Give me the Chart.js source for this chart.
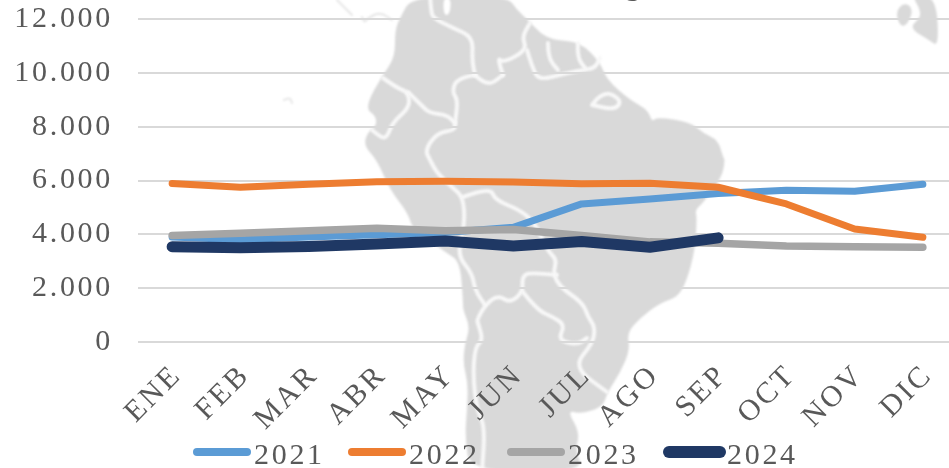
<!DOCTYPE html>
<html>
<head>
<meta charset="utf-8">
<style>
html,body{margin:0;padding:0;background:#fff;overflow:hidden;width:949px;height:468px}
canvas{display:block}
</style>
<script src="https://cdn.jsdelivr.net/npm/chart.js@4"></script>
</head>
<body>
<canvas id="c" width="957" height="468"></canvas>
<script>
const categories = ['ENE','FEB','MAR','ABR','MAY','JUN','JUL','AGO','SEP','OCT','NOV','DIC'];
const yTickLabels = ['0','2.000','4.000','6.000','8.000','10.000','12.000'];
const s2021 = [3900,3800,3900,3980,4070,4260,5130,5310,5520,5640,5600,5860];
const s2022 = [5890,5750,5860,5950,5970,5940,5880,5900,5750,5130,4200,3890];
const s2023 = [3960,4040,4130,4230,4130,4180,3960,3720,3670,3570,3540,3520];
const s2024 = [3540,3500,3550,3640,3750,3570,3730,3520,3870,null,null,null];
const seriesLabels = ['2021','2022','2023','2024'];
const seriesColors = ['#5b9bd5','#ed7d31','#a5a5a5','#1f3864'];
const seriesWidths = [7,7,7.5,11];

const TEXT = '#595959';
const FONT = 'Liberation Serif';
const MAP = '#d9d9d9';

// Decorative background map of South America (not chart data)
const mapOutline = [[412,-4],[400,18],[395,30],[395,57],[383,75],[370,97],[367,110],[375,115],[377,125],[367,133],[364,146],[377,160],[390,190],[408,213],[413,230],[447,253],[460,262],[463,300],[463,310],[470,327],[465,343],[463,363],[468,383],[467,410],[465,437],[470,472],[584,472],[575,450],[580,433],[567,410],[580,414],[603,407],[607,393],[620,373],[630,350],[627,333],[640,318],[660,303],[678,297],[687,280],[695,250],[697,217],[695,210],[703,203],[722,177],[725,160],[723,157],[718,140],[703,133],[690,122],[657,117],[652,122],[648,110],[630,100],[607,80],[600,62],[580,42],[553,40],[540,33],[530,22],[517,10],[507,-4]];
const mapIslandA = [[896,12],[903,3],[911,6],[912,15],[905,27],[899,24]];
const mapIslandB = [[912,-4],[936,-4],[939,47],[929,40],[909,28],[921,17],[919,7]];
const mapBorders = [
 [[430,-4],[431,10],[433,18],[453,28],[473,37],[472,60],[475,75]],
 [[475,75],[457,78],[452,92],[458,100],[455,123],[455,130],[437,133],[425,150],[430,160],[437,173],[453,188],[463,197],[465,223],[457,255],[472,273],[475,290],[485,305]],
 [[475,75],[487,87],[503,75]],
 [[503,75],[497,57],[503,63],[527,50],[522,37],[530,23]],
 [[527,50],[533,70],[540,80],[563,74],[583,70],[595,68],[600,58]],
 [[548,43],[548,58],[558,70]],
 [[578,43],[577,57],[585,68]],
 [[383,78],[397,88],[408,92],[410,107],[393,122],[387,137],[382,138],[372,130]],
 [[408,92],[423,107],[430,113],[447,115],[455,123]],
 [[592,105],[603,90],[622,100],[615,110],[592,105]],
 [[463,197],[490,187],[495,200],[520,210],[535,223],[547,250],[557,260],[553,273],[560,287],[583,303],[588,317],[595,327],[593,343],[573,367],[607,392]],
 [[557,275],[530,272],[522,277],[523,292],[510,303],[498,295],[485,305],[477,320],[478,323],[483,340],[475,347],[473,377],[477,410],[485,427],[482,472]],
 [[523,292],[537,310],[553,317],[565,325],[558,340],[577,345],[587,338]]
];
const mapLakes = [[[443,-2],[451,-2],[450,14],[444,16]]];
const mapFaint = [[[337,0],[345,8],[352,15]],[[362,17],[364,23],[368,18],[380,12],[392,20]],[[284,100],[290,97],[292,103]]];

function smooth(ctx, pts, close){
  ctx.beginPath();
  if(close){
    const last = pts[pts.length-1];
    ctx.moveTo((last[0]+pts[0][0])/2,(last[1]+pts[0][1])/2);
    pts.forEach((p,i)=>{
      const n = pts[(i+1)%pts.length];
      ctx.quadraticCurveTo(p[0],p[1],(p[0]+n[0])/2,(p[1]+n[1])/2);
    });
    ctx.closePath();
  } else {
    ctx.moveTo(pts[0][0],pts[0][1]);
    for(let i=1;i<pts.length-1;i++){
      ctx.quadraticCurveTo(pts[i][0],pts[i][1],(pts[i][0]+pts[i+1][0])/2,(pts[i][1]+pts[i+1][1])/2);
    }
    const e = pts[pts.length-1];
    ctx.lineTo(e[0],e[1]);
  }
}

const backdrop = {
  id:'backdrop',
  beforeDraw(chart){
    const ctx = chart.ctx;
    ctx.save();
    ctx.fillStyle='#fff';
    ctx.fillRect(0,0,chart.width,chart.height);
    ctx.filter='blur(0.8px)';
    ctx.fillStyle=MAP;
    [mapOutline,mapIslandA,mapIslandB].forEach(p=>{smooth(ctx,p,true);ctx.fill();});
    ctx.strokeStyle='#f8f8f8';ctx.lineWidth=4;ctx.lineJoin='round';ctx.lineCap='round';
    mapBorders.forEach(p=>{smooth(ctx,p,false);ctx.stroke();});
    ctx.fillStyle='#fff';
    mapLakes.forEach(p=>{smooth(ctx,p,true);ctx.fill();});
    ctx.strokeStyle='#e6e6e6';ctx.lineWidth=2;
    mapFaint.forEach(p=>{smooth(ctx,p,false);ctx.stroke();});
    ctx.restore();
    ctx.letterSpacing='2.7px';
  }
};

const legendX = [193,348,507,663];
const legendW = [58,58,58,63];
const legendH = [8,8,8,12];
const legendTextX = [254,409,568,727];
const customLegend = {
  id:'customLegend',
  afterDraw(chart){
    const ctx = chart.ctx;
    ctx.save();
    ctx.font='30px "'+FONT+'"';
    ctx.textBaseline='alphabetic';
    ctx.textAlign='left';
    chart.data.datasets.forEach((d,i)=>{
      ctx.fillStyle=d.borderColor;
      ctx.beginPath();
      ctx.roundRect(legendX[i],452-legendH[i]/2,legendW[i],legendH[i],legendH[i]/2);
      ctx.fill();
      ctx.fillStyle=TEXT;
      ctx.fillText(d.label,legendTextX[i],464);
    });
    ctx.fillText('g',625,-5);
    ctx.restore();
  }
};

function clearPad(s){s.paddingLeft=0;s.paddingRight=0;s.paddingTop=0;s.paddingBottom=0;}
const seriesData = [s2021,s2022,s2023,s2024];
new Chart(document.getElementById('c'),{
  type:'line',
  data:{
    labels:categories,
    datasets:seriesLabels.map((l,i)=>({
      label:l,
      data:seriesData[i],
      borderColor:seriesColors[i],
      backgroundColor:seriesColors[i],
      borderWidth:seriesWidths[i],
      borderCapStyle:'round',
      borderJoinStyle:'round',
      pointRadius:0,
      tension:0,
      fill:false,
      order:seriesLabels.length-i
    }))
  },
  options:{
    responsive:false,
    animation:false,
    events:[],
    layout:{padding:{top:19,right:0,left:0,bottom:0}},
    plugins:{legend:{display:false},title:{display:false},tooltip:{enabled:false}},
    scales:{
      x:{
        type:'category',
        offset:true,
        grid:{display:false,drawTicks:false},
        border:{display:false},
        afterFit(s){s.height=126;clearPad(s);},
        ticks:{
          autoSkip:false,
          minRotation:45,maxRotation:45,
          padding:16,
          labelOffset:5,
          color:TEXT,
          font:{family:FONT,size:30}
        }
      },
      y:{
        min:0,max:12000,
        grid:{color:MAP,lineWidth:2,drawTicks:false},
        border:{display:false},
        afterFit(s){s.width=138;clearPad(s);},
        ticks:{
          stepSize:2000,
          padding:25,
          color:TEXT,
          font:{family:FONT,size:30},
          callback(v,i){return yTickLabels[i];}
        }
      }
    }
  },
  plugins:[backdrop,customLegend]
});
</script>
</body>
</html>
